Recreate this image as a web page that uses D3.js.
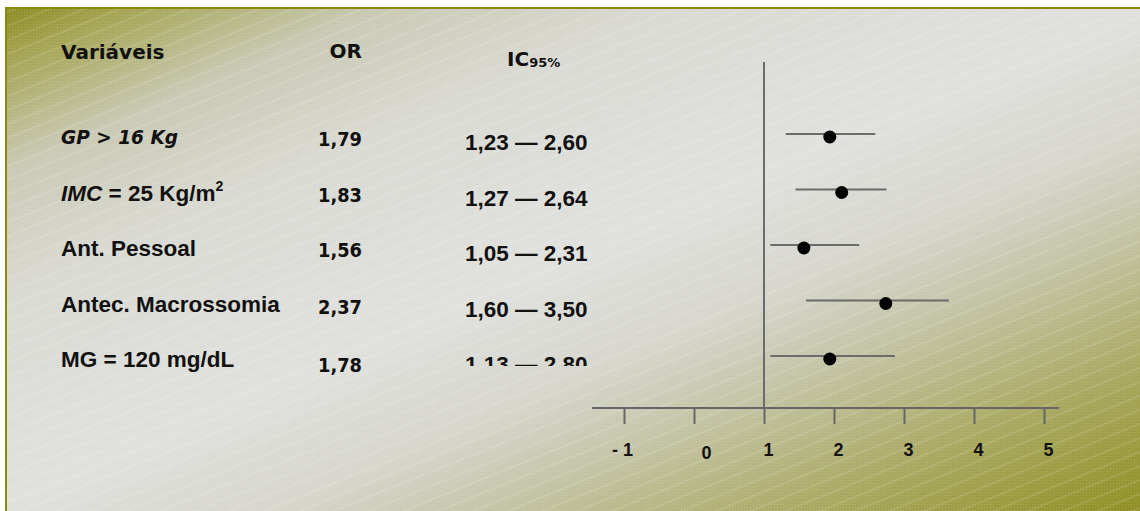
<!DOCTYPE html>
<html>
<head>
<meta charset="utf-8">
<script src="https://cdn.jsdelivr.net/npm/d3@7"></script>
<style>
  body { margin: 0; background: #fff; }
  svg { display: block; }
</style>
</head>
<body>
<div id="chart"></div>
<script>
// forest plot (slide) — OR e IC95% por variável
const variables = ['GP > 16 Kg', 'IMC = 25 Kg/m', 'Ant. Pessoal', 'Antec. Macrossomia', 'MG = 120 mg/dL'];
const orValues = [1.79, 1.83, 1.56, 2.37, 1.78];
const ciLower = [1.23, 1.27, 1.05, 1.60, 1.13];
const ciUpper = [2.60, 2.64, 2.31, 3.50, 2.80];

// where the marks sit on the slide's own axis (axis units)
const drawnOR = [1.94, 2.11, 1.57, 2.74, 1.94];
const drawnLower = [1.31, 1.45, 1.09, 1.60, 1.09];
const drawnUpper = [2.59, 2.75, 2.36, 3.64, 2.87];

const axisTicks = [-1, 0, 1, 2, 3, 4, 5];
const headers = { variable: 'Variáveis', or: 'OR', ci: 'IC', ciSub: '95%' };

const W = 1140, H = 511;
const ptBR = d3.formatLocale({ decimal: ',', thousands: '.', grouping: [3], currency: ['', ''] });
const fmt2 = ptBR.format('.2f');

const arial = "'Liberation Sans', Arial, sans-serif";
const gothic = "'Century Gothic', 'DejaVu Sans', sans-serif";

const svg = d3.select('#chart').append('svg').attr('width', W).attr('height', H);
const defs = svg.append('defs');

// background: olive corners, light grey middle, diagonal stripes
const grad = defs.append('linearGradient').attr('id', 'bg')
  .attr('gradientUnits', 'userSpaceOnUse')
  .attr('x1', 0).attr('y1', 0).attr('x2', 370).attr('y2', 852);
[[0, '#87871a'], [0.06, '#a4a452'], [0.17, '#c9c9b4'], [0.3, '#dadad4'], [0.5, '#e0e0dd'],
 [0.62, '#d6d6cd'], [0.72, '#c3c3a4'], [0.85, '#a9a962'], [1, '#8f8f22']]
  .forEach(s => grad.append('stop').attr('offset', s[0]).attr('stop-color', s[1]));

const stripes = defs.append('pattern').attr('id', 'stripes')
  .attr('patternUnits', 'userSpaceOnUse').attr('width', 12).attr('height', 13)
  .attr('patternTransform', 'rotate(-22)');
stripes.append('rect').attr('width', 12).attr('height', 2).attr('fill', '#fff').attr('opacity', 0.11);

const dots = defs.append('pattern').attr('id', 'dots')
  .attr('patternUnits', 'userSpaceOnUse').attr('width', 3).attr('height', 3);
dots.append('rect').attr('width', 1).attr('height', 1).attr('fill', '#fff').attr('opacity', 0.12);

svg.append('rect').attr('x', 5).attr('y', 7).attr('width', W - 5).attr('height', H - 7).attr('fill', 'url(#bg)');
svg.append('rect').attr('x', 5).attr('y', 7).attr('width', W - 5).attr('height', H - 7).attr('fill', 'url(#stripes)');
svg.append('rect').attr('x', 5).attr('y', 7).attr('width', W - 5).attr('height', H - 7).attr('fill', 'url(#dots)');
// slide frame
svg.append('line').attr('x1', 6).attr('x2', 6).attr('y1', 7).attr('y2', H).attr('stroke', '#8a8a08').attr('stroke-width', 2);
svg.append('line').attr('x1', 5).attr('x2', W).attr('y1', 8).attr('y2', 8).attr('stroke', '#8a8a08').attr('stroke-width', 2);

// scales
const x = d3.scaleLinear().domain([1, 5]).range([764, 1044]);
const y = d3.scalePoint().domain(variables).range([134, 356]);
const axisY = 408;

// headers
svg.append('text').attr('x', 61).attr('y', 59)
  .attr('font-family', gothic).attr('font-weight', 'bold').attr('font-size', 20).attr('fill', '#111')
  .text(headers.variable);
svg.append('text').attr('x', 362).attr('y', 58).attr('text-anchor', 'end')
  .attr('font-family', gothic).attr('font-weight', 'bold').attr('font-size', 20).attr('fill', '#111')
  .text(headers.or);
const icH = svg.append('text').attr('x', 507).attr('y', 66)
  .attr('font-family', gothic).attr('font-weight', 'bold').attr('font-size', 20).attr('fill', '#111');
icH.append('tspan').text(headers.ci);
icH.append('tspan').attr('font-size', 13).attr('dy', 1).text(headers.ciSub);

// variable labels
const labels = svg.append('g').attr('fill', '#111').attr('font-weight', 'bold');
variables.forEach((v, i) => {
  const t = labels.append('text').attr('x', 61).attr('y', y(v) + 11)
    .attr('font-family', arial).attr('font-size', 22.5);
  if (i === 0) {
    t.attr('font-family', gothic).attr('font-size', 20).attr('font-style', 'italic')
      .attr('y', y(v) + 10).attr('textLength', 117).attr('lengthAdjust', 'spacingAndGlyphs').text(v);
  } else if (i === 1) {
    t.append('tspan').attr('font-style', 'italic').text('IMC');
    t.append('tspan').text(v.slice(3));
    t.append('tspan').attr('font-size', 14).attr('dy', -10).text('2');
  } else {
    t.text(v);
  }
});

// OR column (the last two sit a little lower on the slide)
const orNudge = [0, 0, 0, 1.5, 4];
svg.append('g').selectAll('text').data(orValues).join('text')
  .attr('x', 362).attr('y', (d, i) => y(variables[i]) + 12 + orNudge[i])
  .attr('text-anchor', 'end')
  .attr('font-family', gothic).attr('font-weight', 'bold').attr('font-size', 20).attr('fill', '#111')
  .attr('textLength', 44).attr('lengthAdjust', 'spacingAndGlyphs')
  .text(d => fmt2(d));

// IC column (last row is cut off at the bottom on the slide)
defs.append('clipPath').attr('id', 'ciClip').append('rect')
  .attr('x', 0).attr('y', 0).attr('width', W).attr('height', 366);
svg.append('g').attr('clip-path', 'url(#ciClip)')
  .selectAll('text').data(ciLower).join('text')
  .attr('x', 465).attr('y', (d, i) => y(variables[i]) + 16)
  .attr('font-family', arial).attr('font-weight', 'bold').attr('font-size', 22.5).attr('fill', '#111')
  .text((d, i) => `${fmt2(d)} — ${fmt2(ciUpper[i])}`);

// reference line at 1
svg.append('line')
  .attr('x1', x(1)).attr('x2', x(1)).attr('y1', 62).attr('y2', axisY)
  .attr('stroke', '#6b6b6b').attr('stroke-width', 2);

// x axis
const axisG = svg.append('g').attr('transform', `translate(0,${axisY})`)
  .call(d3.axisBottom(x).tickValues(axisTicks).tickSize(16).tickSizeOuter(0).tickPadding(19)
    .tickFormat(d => d < 0 ? `- ${Math.abs(d)}` : d));
axisG.select('.domain').remove();
axisG.selectAll('.tick line').attr('stroke', '#666').attr('stroke-width', 2);
axisG.selectAll('.tick text')
  .attr('dx', d => d < 0 ? -2 : (d === 0 ? 12 : 4))
  .attr('dy', d => d === 0 ? '0.88em' : '0.71em')
  .attr('font-family', arial).attr('font-weight', 'bold').attr('font-size', 18).attr('fill', '#111');
axisG.append('line')
  .attr('x1', x(-1) - 32).attr('x2', x(5) + 15).attr('y1', 0).attr('y2', 0)
  .attr('stroke', '#666').attr('stroke-width', 2);

// CI bars and OR points
const marks = svg.append('g');
marks.selectAll('line').data(variables).join('line')
  .attr('x1', (d, i) => x(drawnLower[i])).attr('x2', (d, i) => x(drawnUpper[i]))
  .attr('y1', d => y(d)).attr('y2', d => y(d))
  .attr('stroke', '#6b6b6b').attr('stroke-width', 2);
marks.selectAll('circle').data(variables).join('circle')
  .attr('cx', (d, i) => x(drawnOR[i])).attr('cy', d => y(d) + 3)
  .attr('r', 6.5).attr('fill', '#000');
</script>
</body>
</html>
